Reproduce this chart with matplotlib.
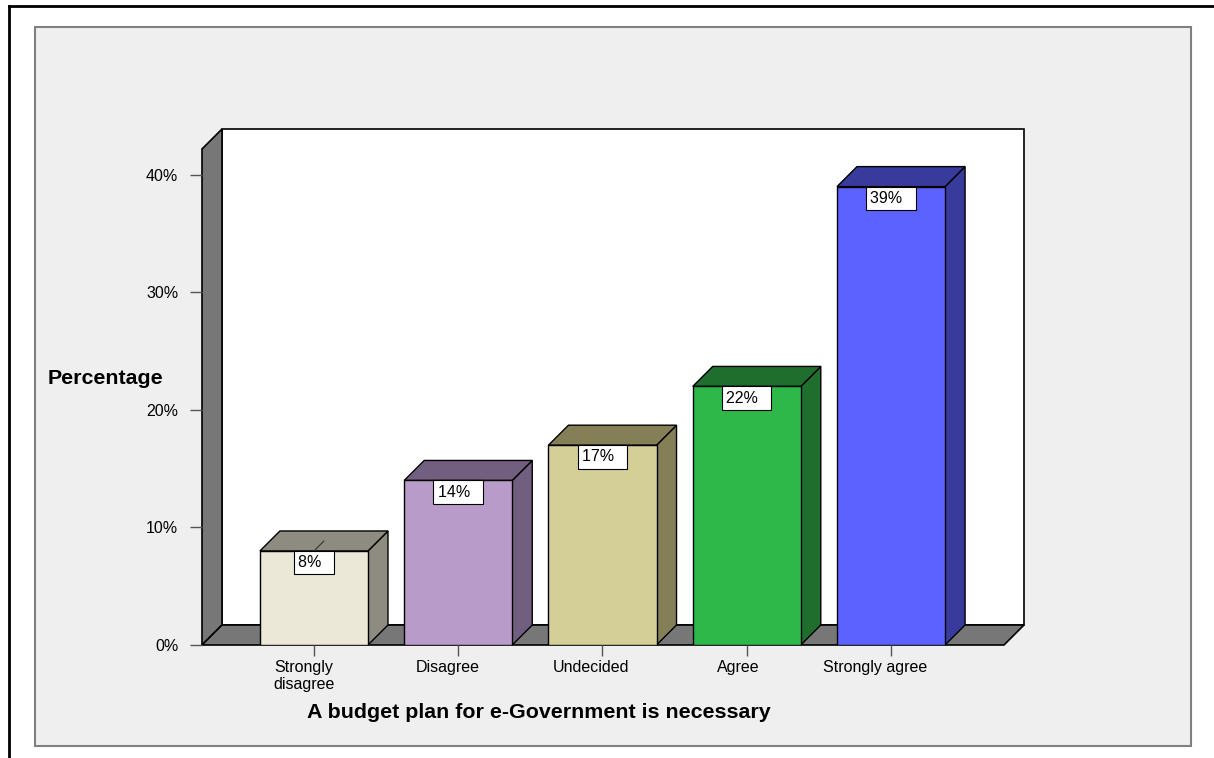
import matplotlib.pyplot as plt
import matplotlib.transforms as mtransforms
import numpy as np
from matplotlib.patches import Rectangle, Polygon
from matplotlib.lines import Line2D

plt.rcParams['font.family'] = ['Liberation Sans', 'DejaVu Sans']

categories = ['Strongly\ndisagree', 'Disagree', 'Undecided', 'Agree', 'Strongly agree']
percent = [8, 14, 17, 22, 39]
front_colors = ['#ebe8d8', '#b89bc9', '#d4cf97', '#2eb84a', '#5b62ff']
side_colors = ['#8e8c80', '#725f80', '#857f57', '#1f6e2d', '#393b9c']
yticks = [0, 10, 20, 30, 40]
# category labels sit a little left of their ticks (pixels)
label_shift = [-10, -10, -11, -8, -16]

W, H = 1214, 758
fig = plt.figure(figsize=(W / 100, H / 100), dpi=100)


def fx(px):
    return px / W


def fy(py):
    return 1 - py / H


# outer frame and grey panel
fig.add_artist(Line2D([fx(9), 1], [fy(6), fy(6)], color='black', lw=2))
fig.add_artist(Line2D([fx(9), fx(9)], [fy(6), 0], color='black', lw=2))
fig.add_artist(Rectangle((fx(35), fy(746)), fx(1191) - fx(35), fy(27) - fy(746),
                         facecolor='#efefef', edgecolor='#808080', lw=1.5,
                         transform=fig.transFigure, zorder=0))

ax = fig.add_axes([fx(202), fy(645), fx(1004) - fx(202), fy(149) - fy(645)])
x = np.arange(len(categories))
xmin, xmax = -0.776, 4.783
ymin, ymax = 0, 42.2
ax.set_xlim(xmin, xmax)
ax.set_ylim(ymin, ymax)
ax.patch.set_visible(False)
for s in ax.spines.values():
    s.set_visible(False)

# depth of the 3D effect, 20 px right and up, in data units
p0 = ax.transData.transform((0, 0))
dx, dy = ax.transData.inverted().transform(p0 + np.array([20, 20]))

wall = '#777777'
ax.add_patch(Rectangle((xmin + dx, ymin + dy), xmax - xmin, ymax - ymin,
                       facecolor='white', edgecolor='black', lw=1.2, zorder=0, clip_on=False))
ax.add_patch(Polygon([(xmin, ymin), (xmin + dx, ymin + dy), (xmin + dx, ymax + dy), (xmin, ymax)],
                     closed=True, facecolor=wall, edgecolor='black', lw=1.2, zorder=1, clip_on=False))
ax.add_patch(Polygon([(xmin, ymin), (xmax, ymin), (xmax + dx, ymin + dy), (xmin + dx, ymin + dy)],
                     closed=True, facecolor=wall, edgecolor='black', lw=1.2, zorder=1, clip_on=False))

width = 0.749
bars = ax.bar(x, percent, width=width, color=front_colors, edgecolor='black', lw=1, zorder=3)
for xi, v, sc in zip(x, percent, side_colors):
    l, r = xi - width / 2, xi + width / 2
    ax.add_patch(Polygon([(r, 0), (r + dx, dy), (r + dx, v + dy), (r, v)], closed=True,
                         facecolor=sc, edgecolor='black', lw=1, zorder=2, clip_on=False))
    ax.add_patch(Polygon([(l, v), (r, v), (r + dx, v + dy), (l + dx, v + dy)], closed=True,
                         facecolor=sc, edgecolor='black', lw=1, zorder=2, clip_on=False))

# value labels
for xi, v in zip(x, percent):
    ax.annotate(f'{v}%  ', xy=(xi, v), xytext=(0, -3), textcoords='offset points',
                ha='center', va='top', fontsize=11.5, zorder=6,
                bbox=dict(boxstyle='square,pad=0.26', facecolor='white', edgecolor='black', lw=0.8))
ax.annotate('', xy=(x[0], percent[0]), xytext=(10, 10), textcoords='offset pixels',
            arrowprops=dict(arrowstyle='-', lw=0.8, color='#333333', shrinkA=0, shrinkB=0), zorder=5)

ax.set_xticks(x)
ax.set_xticklabels(categories, linespacing=1.15)
ax.set_yticks(yticks)
ax.set_yticklabels([f'{t}%' for t in yticks])
ax.tick_params(axis='y', direction='out', length=8.6, width=1, color='#555555',
               labelsize=11.5, pad=8.5)
ax.tick_params(axis='x', direction='out', length=8, width=1, color='#555555',
               labelsize=11.5, pad=3)
for lab, sh in zip(ax.get_xticklabels(), label_shift):
    lab.set_transform(lab.get_transform() +
                      mtransforms.ScaledTranslation(sh / 100, 0, fig.dpi_scale_trans))

fig.text(fx(48), fy(379), 'Percentage', fontsize=15.4, fontweight='bold', ha='left', va='center')
fig.text(fx(539), fy(712), 'A budget plan for e-Government is necessary', fontsize=15.4,
         fontweight='bold', ha='center', va='center')

fig.savefig('out.png', dpi=100)
